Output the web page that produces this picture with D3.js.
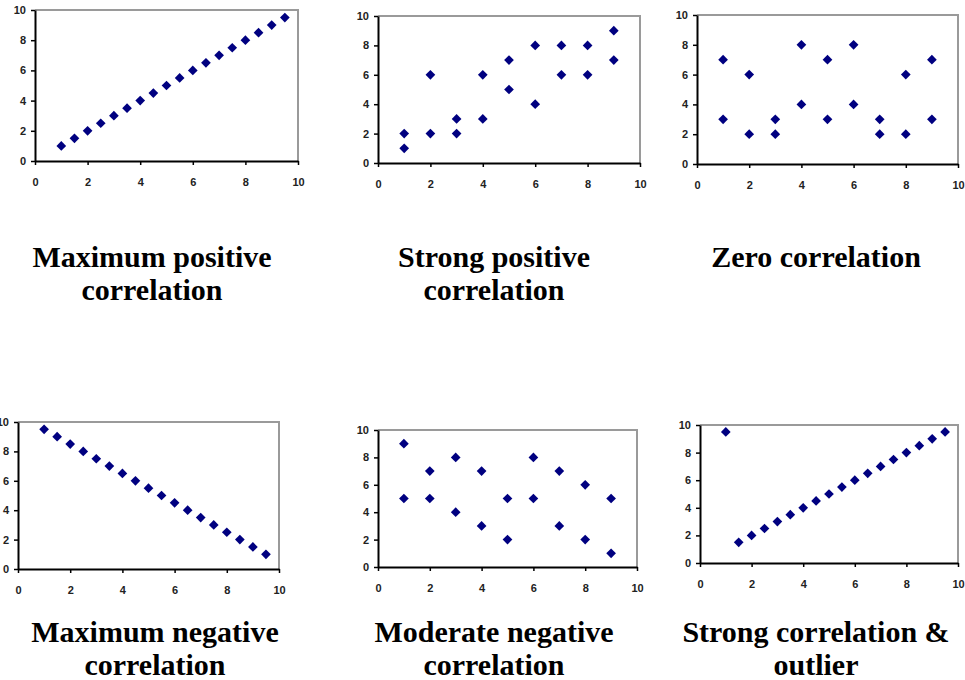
<!DOCTYPE html>
<html>
<head>
<meta charset="utf-8">
<script src="https://cdn.jsdelivr.net/npm/d3@7"></script>
<style>
  body { margin: 0; background: #fff; }
  .axis text { font-family: "Liberation Sans", Arial, sans-serif; font-size: 11px; font-weight: bold; fill: #222; }
  .axis path, .axis line { stroke: #000; }
  .title { font-family: "Liberation Serif", "Times New Roman", serif; font-size: 30px; font-weight: bold; fill: #000; }
</style>
</head>
<body>
<svg id="svg" width="965" height="680"></svg>
<script>
// axis ticks shared by every panel
var tickValues = [0, 2, 4, 6, 8, 10];

// 1. maximum positive correlation
var maxPosX = [1, 1.5, 2, 2.5, 3, 3.5, 4, 4.5, 5, 5.5, 6, 6.5, 7, 7.5, 8, 8.5, 9, 9.5];
var maxPosY = [1, 1.5, 2, 2.5, 3, 3.5, 4, 4.5, 5, 5.5, 6, 6.5, 7, 7.5, 8, 8.5, 9, 9.5];

// 2. strong positive correlation
var strongPosX = [1, 1, 2, 2, 3, 3, 4, 4, 5, 5, 6, 6, 7, 7, 8, 8, 9, 9];
var strongPosY = [2, 1, 6, 2, 3, 2, 6, 3, 7, 5, 8, 4, 8, 6, 8, 6, 9, 7];

// 3. zero correlation
var zeroX = [1, 1, 2, 2, 3, 3, 4, 4, 5, 5, 6, 6, 7, 7, 8, 8, 9, 9];
var zeroY = [7, 3, 6, 2, 3, 2, 8, 4, 7, 3, 8, 4, 3, 2, 6, 2, 7, 3];

// 4. maximum negative correlation
var maxNegX = [1, 1.5, 2, 2.5, 3, 3.5, 4, 4.5, 5, 5.5, 6, 6.5, 7, 7.5, 8, 8.5, 9, 9.5];
var maxNegY = [9.5, 9, 8.5, 8, 7.5, 7, 6.5, 6, 5.5, 5, 4.5, 4, 3.5, 3, 2.5, 2, 1.5, 1];

// 5. moderate negative correlation
var modNegX = [1, 1, 2, 2, 3, 3, 4, 4, 5, 5, 6, 6, 7, 7, 8, 8, 9, 9];
var modNegY = [9, 5, 7, 5, 8, 4, 7, 3, 5, 2, 8, 5, 7, 3, 6, 2, 5, 1];

// 6. strong correlation with one outlier
var outlierX = [1, 1.5, 2, 2.5, 3, 3.5, 4, 4.5, 5, 5.5, 6, 6.5, 7, 7.5, 8, 8.5, 9, 9.5];
var outlierY = [9.5, 1.5, 2, 2.5, 3, 3.5, 4, 4.5, 5, 5.5, 6, 6.5, 7, 7.5, 8, 8.5, 9, 9.5];

var titles = [
  ["Maximum positive", "correlation"],
  ["Strong positive", "correlation"],
  ["Zero correlation"],
  ["Maximum negative", "correlation"],
  ["Moderate negative", "correlation"],
  ["Strong correlation &", "outlier"]
];

var series = [
  [maxPosX, maxPosY],
  [strongPosX, strongPosY],
  [zeroX, zeroY],
  [maxNegX, maxNegY],
  [modNegX, modNegY],
  [outlierX, outlierY]
];

// where each little chart sits on the page
var layout = [
  { left: 35, top: 10, right: 298, bottom: 161, titleX: 152, titleY: 267 },
  { left: 378, top: 16, right: 640, bottom: 163, titleX: 494, titleY: 267 },
  { left: 697, top: 15, right: 958, bottom: 164, titleX: 816, titleY: 267 },
  { left: 18, top: 422, right: 279, bottom: 569, titleX: 155, titleY: 642 },
  { left: 378, top: 430, right: 637, bottom: 567, titleX: 494, titleY: 642 },
  { left: 700, top: 425, right: 958, bottom: 563, titleX: 816, titleY: 642 }
];

var svg = d3.select("#svg");

var diamond = d3.symbol().type(d3.symbolDiamond2).size(60);

layout.forEach(function (box, i) {
  var w = box.right - box.left;
  var h = box.bottom - box.top;

  var xScale = d3.scaleLinear().domain([0, 10]).range([0, w]);
  var yScale = d3.scaleLinear().domain([0, 10]).range([h, 0]);

  var g = svg.append("g")
    .attr("transform", "translate(" + box.left + "," + box.top + ")");

  // gray frame on top and right
  g.append("path")
    .attr("d", "M0,0H" + w + "V" + h)
    .attr("fill", "none")
    .attr("stroke", "#9a9a9a")
    .attr("stroke-width", 2);

  g.append("g")
    .attr("class", "axis")
    .attr("transform", "translate(0," + h + ")")
    .call(d3.axisBottom(xScale).tickValues(tickValues).tickSize(4).tickSizeOuter(0).tickPadding(13));

  g.append("g")
    .attr("class", "axis")
    .call(d3.axisLeft(yScale).tickValues(tickValues).tickSize(4).tickSizeOuter(0).tickPadding(5));

  g.selectAll(".axis path").attr("stroke-width", 2);
  g.selectAll(".axis line").attr("stroke-width", 1.5);

  var xs = series[i][0];
  var ys = series[i][1];

  g.selectAll(".pt")
    .data(xs)
    .enter()
    .append("path")
    .attr("class", "pt")
    .attr("d", diamond)
    .attr("fill", "#000080")
    .attr("transform", function (d, j) {
      return "translate(" + xScale(d) + "," + yScale(ys[j]) + ")";
    });

  var t = svg.append("text")
    .attr("class", "title")
    .attr("text-anchor", "middle")
    .attr("x", box.titleX)
    .attr("y", box.titleY);

  t.selectAll("tspan")
    .data(titles[i])
    .enter()
    .append("tspan")
    .attr("x", box.titleX)
    .attr("dy", function (d, j) { return j === 0 ? 0 : 33; })
    .text(function (d) { return d; });
});
</script>
</body>
</html>
